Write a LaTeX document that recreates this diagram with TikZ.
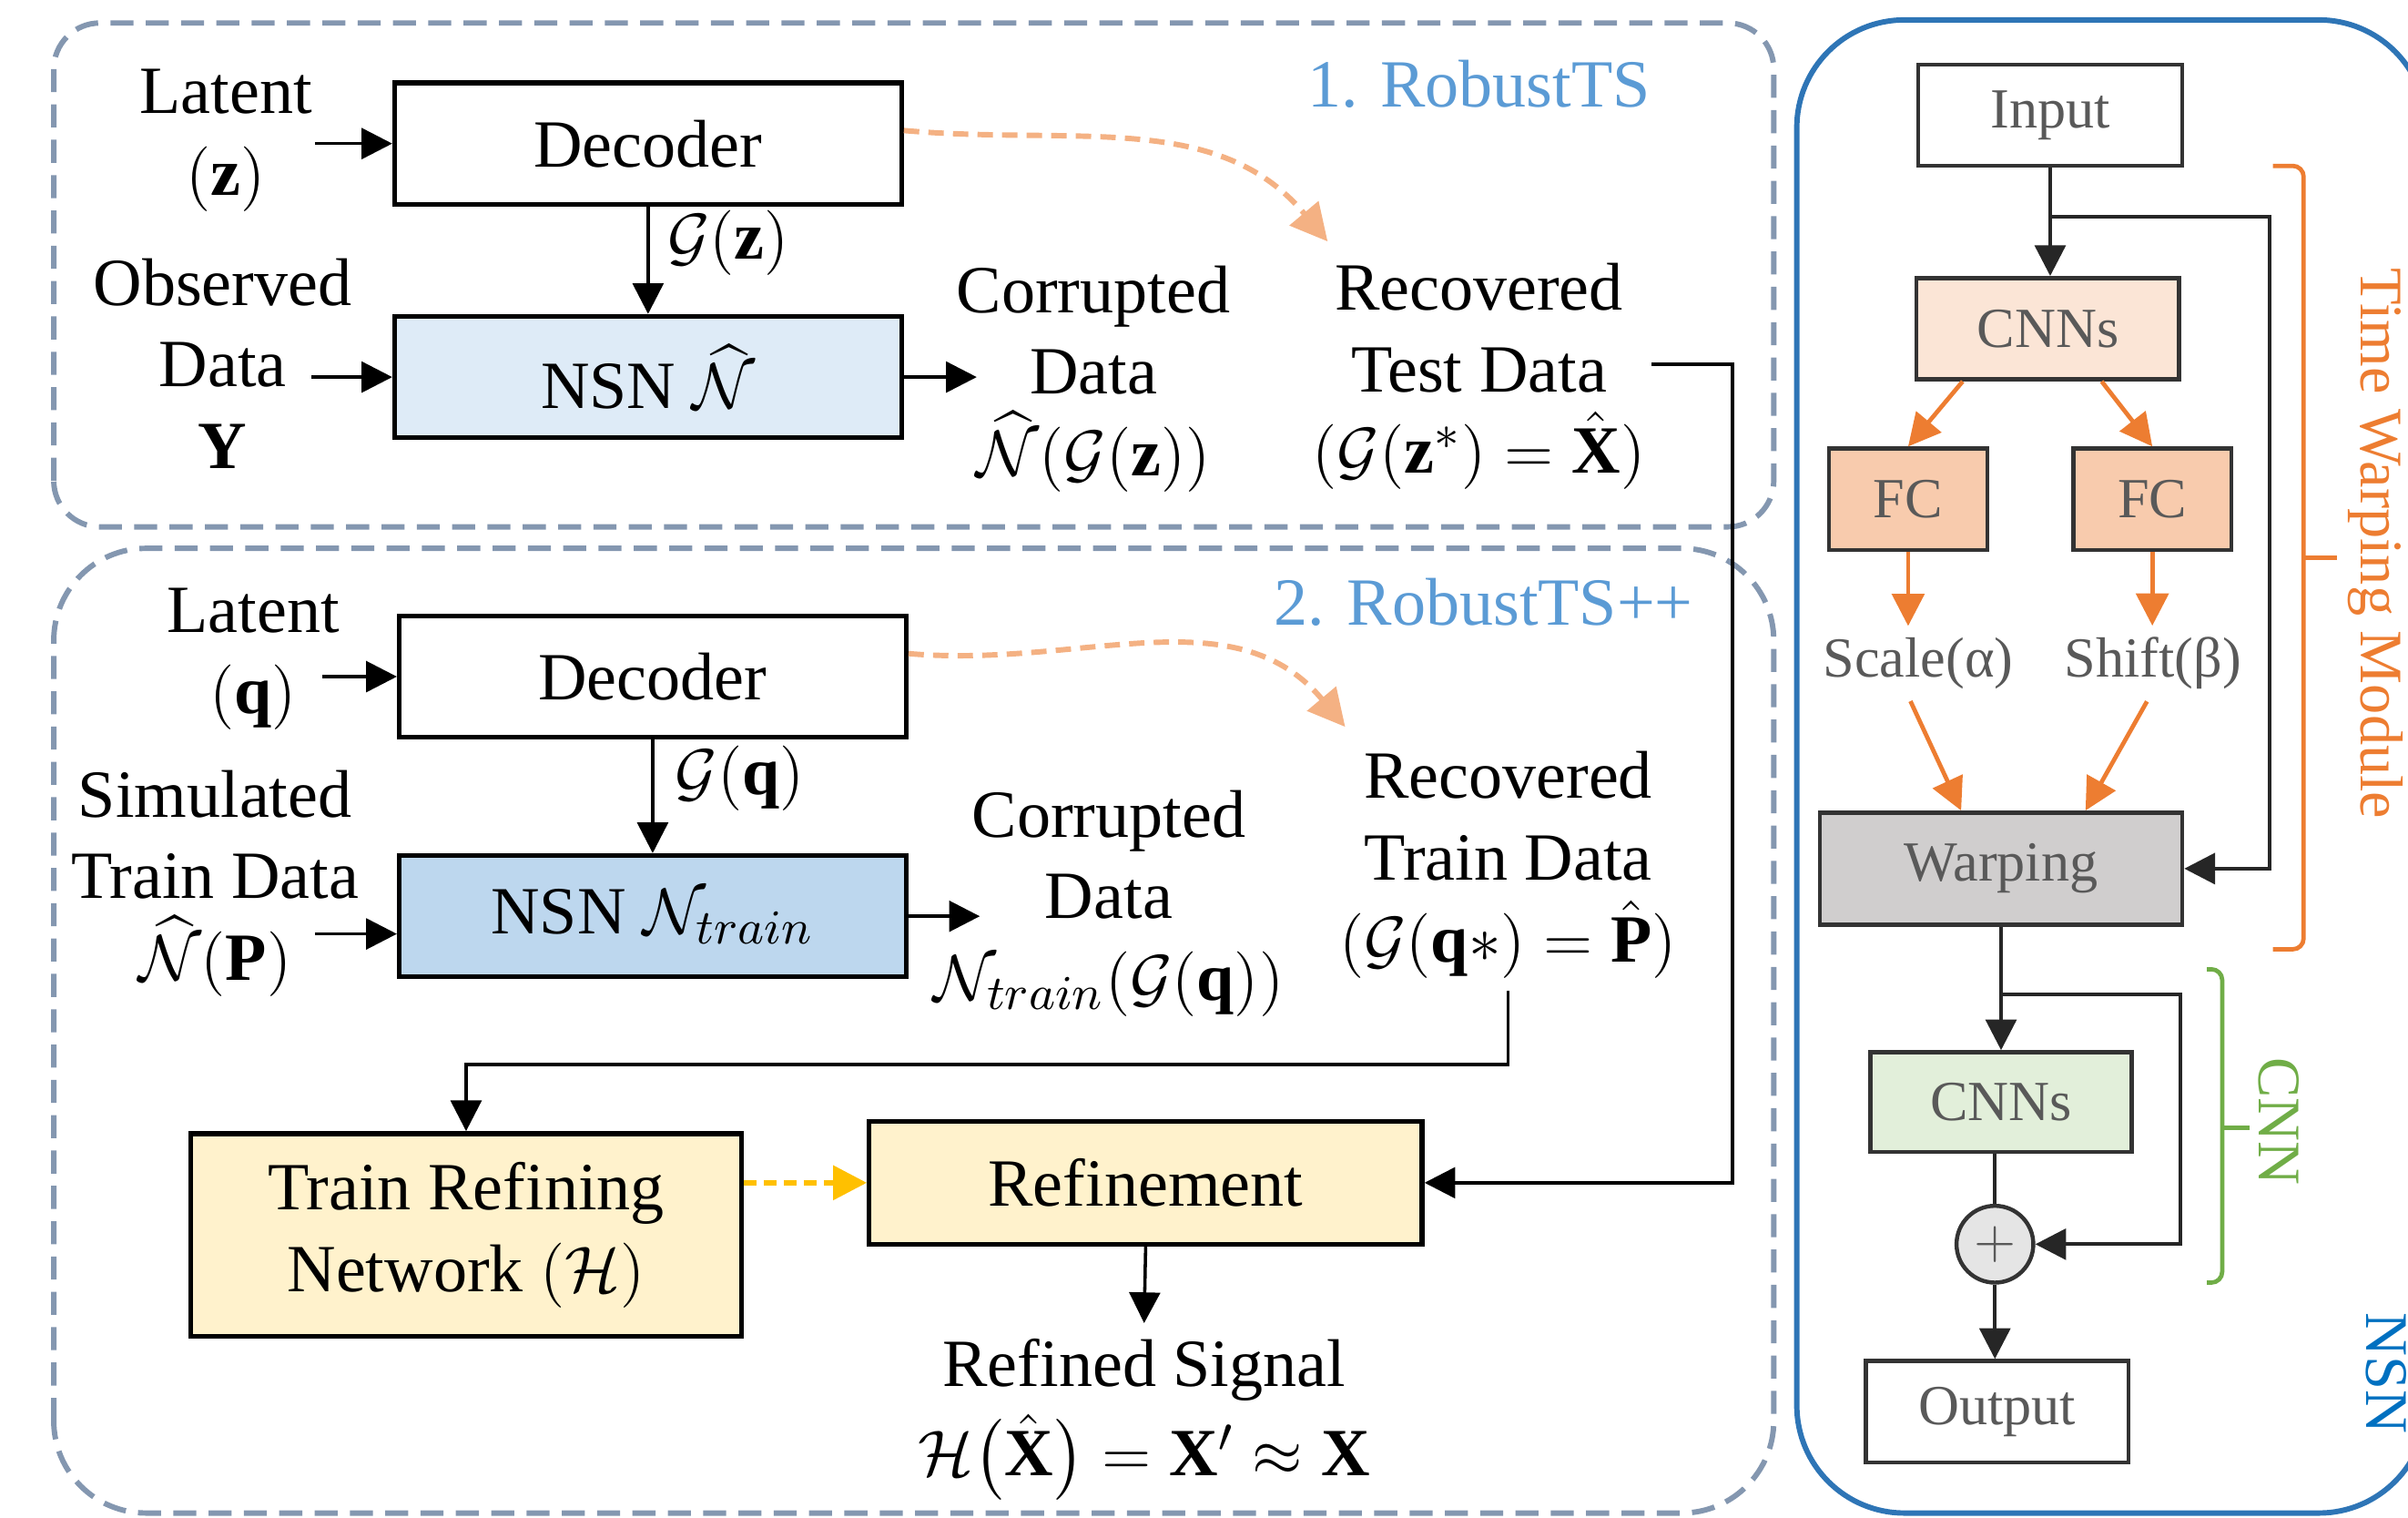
\documentclass[tikz,border=0pt]{standalone}
\usepackage{amsmath,amssymb}
\usepackage{fontspec}
\setmainfont{Liberation Serif}
\usepackage{xcolor}
\usetikzlibrary{arrows.meta,calc}

\definecolor{framegray}{HTML}{8497B0}
\definecolor{panelblue}{HTML}{2E75B6}
\definecolor{nsnlabel}{HTML}{0070C0}
\definecolor{titleblue}{HTML}{5B9BD5}
\definecolor{nsnlight}{HTML}{DEEBF7}
\definecolor{nsnmid}{HTML}{BDD7EE}
\definecolor{refyellow}{HTML}{FFF2CC}
\definecolor{dashorange}{HTML}{F4B183}
\definecolor{gold}{HTML}{FFC000}
\definecolor{twmorange}{HTML}{ED7D31}
\definecolor{cnnpeach}{HTML}{FBE5D6}
\definecolor{fcpeach}{HTML}{F8CBAD}
\definecolor{warpgray}{HTML}{D0CECE}
\definecolor{cnngreen}{HTML}{E2EFDA}
\definecolor{bracegreen}{HTML}{70AD47}
\definecolor{txtgray}{HTML}{595959}

\tikzset{
  stage/.style={draw=framegray, line width=1pt, dash pattern=on 0.15cm off 0.08cm},
  stagetitle/.style={text=titleblue, inner sep=1pt, font=\fontsize{12.5}{15}\selectfont},
  blk/.style={draw, line width=0.9pt, minimum width=3.3cm, minimum height=0.79cm,
    inner sep=0pt, font=\fontsize{12.5}{15.1}\selectfont},
  lbl/.style={align=center, inner sep=1pt, font=\fontsize{12.5}{15.1}\selectfont},
  arr/.style={-{Triangle[length=2mm,width=2mm]}, line width=0.6pt},
  dasharr/.style={-{Triangle[length=2.4mm,width=2.4mm]}, line width=1pt, dashorange,
    dash pattern=on 0.1cm off 0.06cm},
  goldarr/.style={-{Triangle[length=2.2mm,width=2.2mm]}, line width=1pt, gold,
    dash pattern=on 0.08cm off 0.05cm},
  nbox/.style={draw=black!80, line width=0.75pt, minimum height=0.66cm, inner sep=0pt,
    text=txtgray, font=\fontsize{10.5}{12.5}\selectfont},
  ntxt/.style={inner sep=2pt, text=txtgray, font=\fontsize{10.5}{12.5}\selectfont},
  narr/.style={-{Triangle[length=2mm,width=2mm]}, line width=0.7pt, black!85},
  oarr/.style={-{Triangle[length=2.1mm,width=2.1mm]}, line width=0.8pt, twmorange},
  bracket/.style={line width=0.8pt, rounded corners=2pt},
  sidelbl/.style={rotate=-90, inner sep=1pt, font=\fontsize{11.2}{13}\selectfont},
}

\begin{document}
\begin{tikzpicture}
\useasboundingbox (0,0) rectangle (15.68,9.88);

% frames
\draw[stage, rounded corners=0.3cm] (0.35,6.45) rectangle (11.55,9.73);
\draw[stage, rounded corners=0.6cm] (0.35,0.03) rectangle (11.55,6.31);
\draw[panelblue, line width=1pt, rounded corners=0.7cm] (11.70,0.03) rectangle (15.80,9.75);

% 1. RobustTS
\node[stagetitle] (t1) at (9.63,9.33) {1. RobustTS};
\node[lbl] (latz) at (1.47,8.965) {Latent\\$(\mathbf{z})$};
\node[blk] (dec1) at (4.22,8.945) {Decoder};
\node[lbl] (obs) at (1.45,7.515) {Observed\\Data\\$\mathbf{Y}$};
\node[blk, fill=nsnlight] (nsn1) at (4.22,7.425) {NSN $\widehat{\mathcal{N}}$};
\node[lbl] (cor1) at (7.12,7.415) {Corrupted\\Data\\$\widehat{\mathcal{N}}(\mathcal{G}(\mathbf{z}))$};
\node[lbl] (rec1) at (9.63,7.43) {Recovered\\Test Data\\$(\mathcal{G}(\mathbf{z}^{*}) = \hat{\mathbf{X}})$};

\coordinate (latzout) at (2.05,8.945);
\coordinate (obsout) at (2.03,7.425);
\coordinate (cor1in) at (6.36,7.425);
\coordinate (tdturn) at (11.28,7.51);

\draw[arr] (latzout) -- (dec1.west);
\draw[arr] (obsout) -- (nsn1.west);
\draw[arr] (dec1) -- node[lbl, right=0.08cm, pos=0.34] {$\mathcal{G}(\mathbf{z})$} (nsn1);
\draw[arr] (nsn1.east) -- (cor1in);
\draw[dasharr] ([yshift=0.085cm]dec1.east) to[out=-5, in=130] ([xshift=0.14cm,yshift=0.1cm]rec1.north west);

% 2. RobustTS++
\node[stagetitle] (t2) at (9.66,5.96) {2. RobustTS++};
\node[lbl] (latq) at (1.65,5.59) {Latent\\$(\mathbf{q})$};
\node[blk] (dec2) at (4.25,5.475) {Decoder};
\node[lbl] (sim) at (1.40,4.13) {Simulated\\Train Data\\$\widehat{\mathcal{N}}(\mathbf{P})$};
\node[blk, fill=nsnmid] (nsn2) at (4.25,3.915) {NSN $\mathcal{N}_{train}$};
\node[lbl] (cor2) at (7.22,4.00) {Corrupted\\Data\\$\mathcal{N}_{train}(\mathcal{G}(\mathbf{q}))$};
\node[lbl] (rec2) at (9.82,4.25) {Recovered\\Train Data\\$(\mathcal{G}(\mathbf{q}{\ast}) = \hat{\mathbf{P}})$};
\node[blk, fill=refyellow, minimum width=3.59cm, minimum height=1.32cm, align=center] (trn) at (3.035,1.84) {Train Refining\\Network $(\mathcal{H})$};
\node[blk, fill=refyellow, minimum width=3.6cm, minimum height=0.8cm] (refine) at (7.46,2.18) {Refinement};
\node[lbl] (rsig) at (7.45,0.64) {Refined Signal\\[0.05cm]$\mathcal{H}\big(\hat{\mathbf{X}}\big) = \mathbf{X}' \approx \mathbf{X}$};

\coordinate (latqout) at (2.10,5.475);
\coordinate (simout) at (2.05,3.80);
\coordinate (cor2in) at (6.38,3.915);
\coordinate (trturn) at (9.82,2.95);

\draw[arr] (latqout) -- (dec2.west);
\draw[arr] (simout) -- (simout -| nsn2.west);
\draw[arr] (dec2) -- node[lbl, right=0.1cm, pos=0.34] {$\mathcal{G}(\mathbf{q})$} (nsn2);
\draw[arr] (nsn2.east) -- (cor2in);
\draw[dasharr] ([yshift=0.15cm]dec2.east) to[out=-5, in=130] ([xshift=0.08cm,yshift=0.12cm]rec2.north west);
\draw[arr] ([yshift=-0.04cm]rec2.south) -- (trturn) -| (trn.north);
\draw[goldarr] (trn.east |- refine.west) -- (refine.west);
\draw[arr] (rec1.east |- tdturn) -- (tdturn) |- (refine.east);
\draw[arr] (refine.south) -- ([yshift=0.06cm]rsig.north);

% NSN panel
\node[nbox, minimum width=1.72cm] (inp) at (13.35,9.13) {Input};
\node[nbox, minimum width=1.71cm, fill=cnnpeach] (cnn1) at (13.335,7.74) {CNNs};
\node[nbox, minimum width=1.03cm, fill=fcpeach] (fc1) at (12.425,6.63) {FC};
\node[nbox, minimum width=1.03cm, fill=fcpeach] (fc2) at (14.015,6.63) {FC};
\node[ntxt] (scl) at (12.49,5.56) {Scale(α)};
\node[ntxt] (shf) at (14.02,5.56) {Shift(β)};
\node[nbox, minimum width=2.36cm, minimum height=0.73cm, fill=warpgray] (warp) at (13.03,4.225) {Warping};
\node[nbox, minimum width=1.70cm, minimum height=0.65cm, fill=cnngreen] (cnn2) at (13.03,2.705) {CNNs};
\node[circle, draw=black!80, line width=0.75pt, fill=black!10, minimum size=0.5cm, inner sep=0pt, text=txtgray] (plus) at (12.99,1.78) {$+$};
\node[nbox, minimum width=1.71cm] (out) at (13.005,0.69) {Output};

\draw[narr] (inp.south) -- (inp.south |- cnn1.north);
\draw[narr] ($(inp.south)!0.45!(inp.south |- cnn1.north)$) -- ++(1.43,0) |- (warp.east);
\draw[oarr] ([xshift=-0.555cm]cnn1.south) -- (fc1.north);
\draw[oarr] ([xshift=0.35cm]cnn1.south) -- (fc2.north);
\draw[oarr] (fc1.south) -- (fc1.south |- scl.north);
\draw[oarr] (fc2.south) -- (fc2.south |- shf.north);
\draw[oarr] ([xshift=-0.05cm]scl.south) -- ([xshift=-0.26cm]warp.north);
\draw[oarr] ([xshift=-0.04cm]shf.south) -- ([xshift=0.55cm]warp.north);
\draw[narr] (warp.south) -- (warp.south |- cnn2.north);
\draw[narr] ($(warp.south)!0.55!(warp.south |- cnn2.north)$) -- ++(1.17,0) |- (plus.east);
\draw[line width=0.7pt, black!85] (plus.north |- cnn2.south) -- (plus.north);
\draw[narr] (plus.south) -- (plus.south |- out.north);

% brackets
\draw[bracket, twmorange] (14.80,8.80) -- (15.00,8.80) -- (15.00,3.70) -- (14.80,3.70);
\draw[bracket, twmorange] (15.00,6.25) -- (15.22,6.25);
\node[sidelbl, twmorange] (twm) at (15.47,6.34) {Time Warping Module};
\draw[bracket, bracegreen] (14.37,3.57) -- (14.47,3.57) -- (14.47,1.53) -- (14.37,1.53);
\draw[bracket, bracegreen] (14.47,2.54) -- (14.65,2.54);
\node[sidelbl, bracegreen] (cnnlbl) at (14.84,2.58) {CNN};
\node[sidelbl, nsnlabel] (nsnlbl) at (15.54,0.94) {NSN};

\end{tikzpicture}
\end{document}
